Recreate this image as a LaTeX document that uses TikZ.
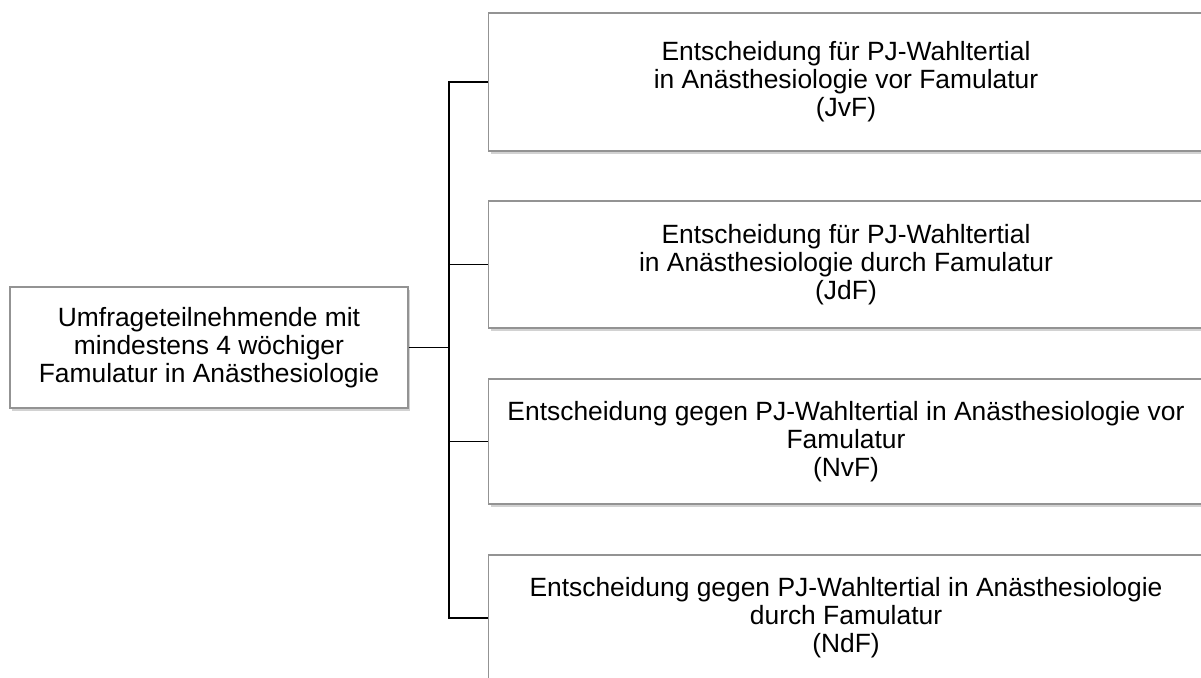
\documentclass[tikz,border=0pt]{standalone}
\usepackage{fontspec}
\setmainfont{Liberation Sans}
\usetikzlibrary{shadows}
\begin{document}
\begin{tikzpicture}[x=0.5pt,y=-0.5pt,
    box/.style={draw=gray!85,line width=0.6pt,fill=white,align=center,inner sep=0pt,
      font=\fontsize{13.2}{14}\selectfont,
      drop shadow={shadow xshift=1pt,shadow yshift=-1.5pt,fill=black!35}},
    branch/.style={box,minimum width=357.5pt},
    link/.style={draw=black,line width=0.8pt}]
  \useasboundingbox (0,0) rectangle (1201,678);
  \clip (0,0) rectangle (1201,678);
  \path
    (209,347.5) node[box,minimum width=199pt,minimum height=60.5pt] (src)
      {Umfrageteilnehmende mit\\mindestens 4 wöchiger\\Famulatur in Anästhesiologie}
    (846,82) node[branch,minimum height=69pt] (jvf)
      {Entscheidung für PJ-Wahltertial\\in Anästhesiologie vor Famulatur\\(JvF)}
    (846,264.5) node[branch,minimum height=63.5pt] (jdf)
      {Entscheidung für PJ-Wahltertial\\in Anästhesiologie durch Famulatur\\(JdF)}
    (846,441.5) node[branch,minimum height=62.5pt] (nvf)
      {Entscheidung gegen PJ-Wahltertial in Anästhesiologie vor\\Famulatur\\(NvF)}
    (846,618) node[branch,minimum height=63pt] (ndf)
      {Entscheidung gegen PJ-Wahltertial in Anästhesiologie\\durch Famulatur\\(NdF)};
  \coordinate (trunk) at (449,347.5);
  \begin{scope}[link]
    \draw (src.east) -- (trunk);
    \draw (jvf.west) -| (trunk) |- (ndf.west);
    \draw (trunk |- jdf.west) -- (jdf.west);
    \draw (trunk |- nvf.west) -- (nvf.west);
  \end{scope}
\end{tikzpicture}
\end{document}
